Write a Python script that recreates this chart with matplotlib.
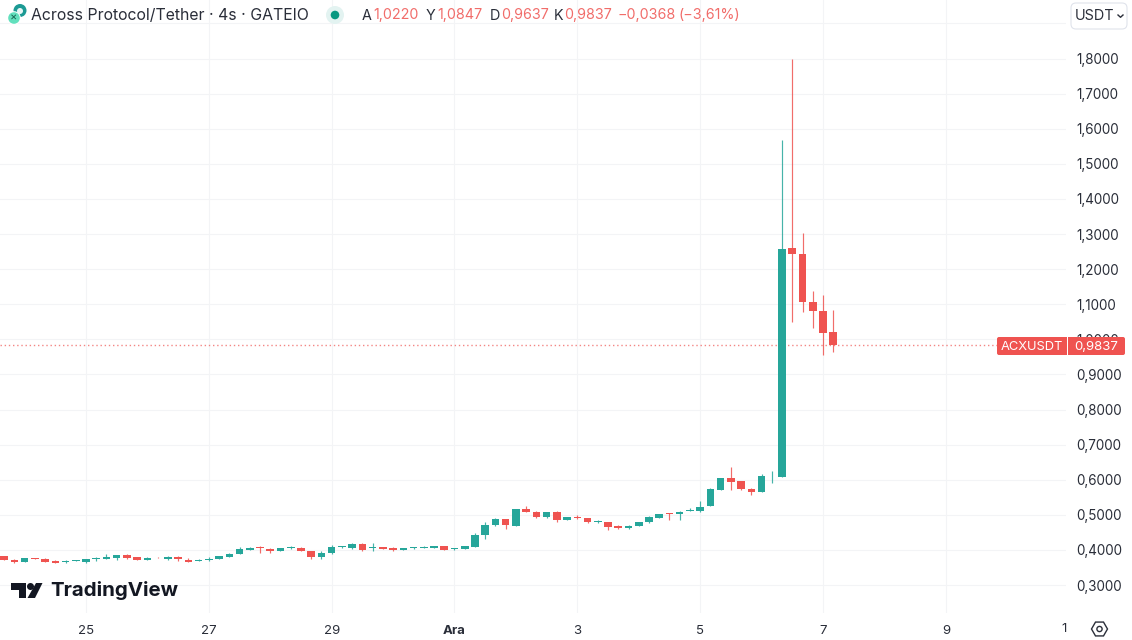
import numpy as np
import matplotlib
matplotlib.use('Agg')
import matplotlib.pyplot as plt
from matplotlib.patches import Circle, FancyBboxPatch, Polygon, RegularPolygon, Rectangle
from matplotlib.ticker import FuncFormatter

plt.rcParams['font.family'] = ['Inter', 'DejaVu Sans']

# 4h candles, index 0 is the candle at the "25" tick
opens = [.383, .3725, .3668, .3772, .3753, .3686, .3658, .3677,
         .3668, .3734, .3734, .3772, .3848, .380, .3725, .3781, .3744, .381,
         .3725, .3696, .3706, .3744, .381, .3877, .401, .4086, .4029, .3972,
         .4048, .4067, .3962, .3791, .3905, .4086, .4048, .4171, .4048, .4076,
         .4048, .400, .4057, .4057, .4067, .4114, .4029, .4029, .4095, .4418,
         .4712, .4883, .4693, .5159, .5092, .4931, .5092, .4845, .494, .4902,
         .4788, .4798, .4674, .4627, .4684, .4788, .4921, .5045, .5026, .5121,
         .5111, .5254, .5719, .6051, .5956, .5738, .5662, .6099, .6088, 1.2601,
         1.2422, 1.1054, 1.0806, 1.022]
highs = [.384, .373, .377, .378, .376, .370, .3725, .371,
         .374, .379, .3886, .3867, .3877, .381, .380, .3785, .383, .383,
         .3763, .373, .379, .3835, .391, .4076, .4095, .4105, .4057, .4057,
         .4105, .4075, .398, .3972, .4143, .4124, .420, .419, .419, .4086,
         .4076, .4067, .4086, .4114, .412, .412, .4067, .4114, .4475, .4788,
         .4902, .4893, .5178, .5244, .510, .509, .5111, .494, .4997, .4912,
         .4855, .4807, .4703, .4703, .4798, .4969, .5035, .505, .5121, .5197,
         .5396, .5757, .6061, .6355, .5966, .5776, .6175, .6241, 1.568, 1.80,
         1.3037, 1.1376, 1.127, 1.0847]
lows = [.370, .364, .366, .374, .365, .363, .363, .367,
        .364, .3686, .3734, .3715, .3744, .371, .3715, .376, .3725, .3696,
        .3658, .369, .3686, .374, .3805, .387, .399, .3905, .3924, .3965,
        .4029, .3955, .3744, .3744, .3886, .4057, .402, .3972, .398, .4019,
        .3972, .3995, .4029, .4048, .406, .3995, .399, .402, .409, .4304,
        .4693, .4608, .469, .5083, .4902, .4902, .4788, .484, .4883, .4769,
        .4769, .457, .4608, .4598, .468, .478, .4912, .4855, .4855, .5111,
        .5092, .5244, .5709, .570, .570, .5576, .5643, .5918, .6085, 1.0484,
        1.0787, 1.0313, .9561, .9637]
closes = [.371, .365, .3763, .3744, .3658, .3639, .3686, .3706,
          .3734, .3763, .381, .3848, .3772, .3715, .3772, .3763, .380, .3734,
          .3668, .3725, .3753, .3829, .3896, .4029, .4067, .4048, .3972, .4048,
          .4086, .3962, .381, .3905, .4086, .4114, .4171, .401, .4076, .4038,
          .399, .4057, .4076, .4086, .4114, .400, .4057, .4105, .4437, .4722,
          .4874, .4712, .5159, .5092, .4931, .5083, .4845, .4931, .4902, .4788,
          .4826, .4665, .4627, .4684, .4788, .4931, .5016, .5026, .5092, .5149,
          .5235, .5729, .6051, .5937, .5728, .5662, .6108, .6118, 1.2573, 1.2422,
          1.1063, 1.0806, 1.018, .9837]
candle_idx = np.arange(-8, 74)

price_ticks = [.3, .4, .5, .6, .7, .8, .9, 1.0, 1.1, 1.2, 1.3, 1.4, 1.5, 1.6, 1.7, 1.8]
date_ticks = [0, 12, 24, 36, 48, 60, 72, 84]
date_labels = ['25', '27', '29', 'Ara', '3', '5', '7', '9']
last_price = 0.9837

GREEN = '#26a69a'
RED = '#ef5350'
GRID = '#f3f4f6'
TEXT = '#2a2e39'
PX = 10.236  # pixels per candle

fig = plt.figure(figsize=(11.32, 6.40), dpi=100)
ax = fig.add_axes([0, 27 / 640, 1066 / 1132, 613 / 640])
ax.set_xlim(-86 / PX, 980 / PX)
ax.set_ylim(1.8 - 554.5 / 351, 1.8 + 58.5 / 351)

o = np.array(opens)
c = np.array(closes)
colors = [GREEN if b >= a else RED for a, b in zip(o, c)]

# candles
ax.vlines(candle_idx, lows, highs, colors=colors, lw=0.85, alpha=0.85, zorder=3)
ax.bar(candle_idx, np.abs(c - o), bottom=np.minimum(o, c), width=0.74,
       color=colors, linewidth=0, zorder=4)
ax.axhline(last_price, color=RED, lw=1, ls=(0, (1, 2)), alpha=0.7, zorder=2)

for s in ax.spines.values():
    s.set_visible(False)
ax.yaxis.tick_right()
ax.set_yticks(price_ticks)
ax.set_yticks([1.9], minor=True)
ax.yaxis.set_major_formatter(FuncFormatter(lambda v, p: f'{v:.4f}'.replace('.', ',')))
ax.set_xticks(date_ticks)
ax.set_xticklabels(date_labels)
ax.tick_params(axis='both', which='both', length=0, labelcolor=TEXT)
ax.tick_params(axis='y', labelsize=9.7, pad=7.5)
ax.tick_params(axis='x', labelsize=9.5, pad=9)
ax.get_xticklabels()[3].set_fontweight('bold')
ax.grid(True, color=GRID, lw=0.75, zorder=0)
ax.grid(True, which='minor', axis='y', color=GRID, lw=0.75, zorder=0)
ax.set_axisbelow(True)

# overlay in pixel coordinates for the header, badge and logo
ov = fig.add_axes([0, 0, 1, 1], zorder=5)
ov.set_xlim(0, 1132)
ov.set_ylim(640, 0)
ov.axis('off')

# pair icon
ov.add_patch(Circle((20, 10.5), 6.5, fc='#1c9a94', ec='none'))
ov.add_patch(Circle((20, 11), 3, fc='#e8f6f5', ec='none'))
ov.add_patch(Circle((14, 18), 6.8, fc='white', ec='none'))
ov.add_patch(Circle((14, 18), 5.8, fc='#62e0bd', ec='none'))
ov.text(14, 18, '×', fontsize=8, color='#16604f', ha='center', va='center')

ov.text(31, 15.5, 'Across Protocol/Tether · 4s · GATEIO', fontsize=11.4, color=TEXT,
        ha='left', va='center')
ov.add_patch(Circle((335, 15), 9, fc='#e3f3f1', ec='none'))
ov.add_patch(Circle((335, 15), 4.3, fc='#089981', ec='none'))

ohlc_text = [(362, 'A', TEXT), (373.5, '1,0220', RED), (426, 'Y', TEXT), (437, '1,0847', RED),
             (490, 'D', TEXT), (501, '0,9637', RED), (554, 'K', TEXT), (564.5, '0,9837', RED),
             (618, '−0,0368', RED), (678, '(−3,61%)', RED)]
for x, s, col in ohlc_text:
    ov.text(x, 15.5, s, fontsize=10.3, color=col, ha='left', va='center',
            alpha=1 if col == TEXT else 0.85)

# USDT button
ov.add_patch(FancyBboxPatch((1074, 6), 50, 20, boxstyle='round,pad=3,rounding_size=5',
                            fc='white', ec='#e0e3eb', lw=0.8))
ov.text(1075, 15.5, 'USDT', fontsize=10.4, color=TEXT, ha='left', va='center')
ov.plot([1118, 1120.5, 1123], [15, 17.3, 15], color=TEXT, lw=1)

# last price badge
ov.add_patch(FancyBboxPatch((998, 338), 126, 16, boxstyle='round,pad=1,rounding_size=2',
                            fc=RED, ec='none'))
ov.add_patch(Rectangle((1066.5, 337), 1, 18, fc='white', ec='none'))
ov.text(1032, 346.5, 'ACXUSDT', fontsize=9.3, color='white', ha='center', va='center')
ov.text(1096.5, 346.5, '0,9837', fontsize=9.5, color='white', ha='center', va='center')

# last date label and settings icon
ov.text(1064, 628.5, '1', fontsize=9.5, color=TEXT, ha='center', va='center')
ov.add_patch(RegularPolygon((1099.5, 629), 6, radius=8, orientation=np.pi / 6,
                            fc='none', ec=TEXT, lw=1))
ov.add_patch(Circle((1099.5, 629), 2.6, fc='none', ec=TEXT, lw=1))

# TradingView logo
LOGO = '#131722'
ov.add_patch(Polygon([(11, 583), (26, 583), (26, 598), (18.5, 598), (18.5, 590), (11, 590)],
                     fc=LOGO, ec='none'))
ov.add_patch(Circle((30.5, 586.5), 3.5, fc=LOGO, ec='none'))
ov.add_patch(Polygon([(36, 583), (42.5, 583), (35, 598), (27.5, 598)], fc=LOGO, ec='none'))
ov.text(50, 591, 'TradingView', fontsize=14.75, fontweight='bold', color=LOGO,
        ha='left', va='center')

fig.savefig('out.png', dpi=100)
